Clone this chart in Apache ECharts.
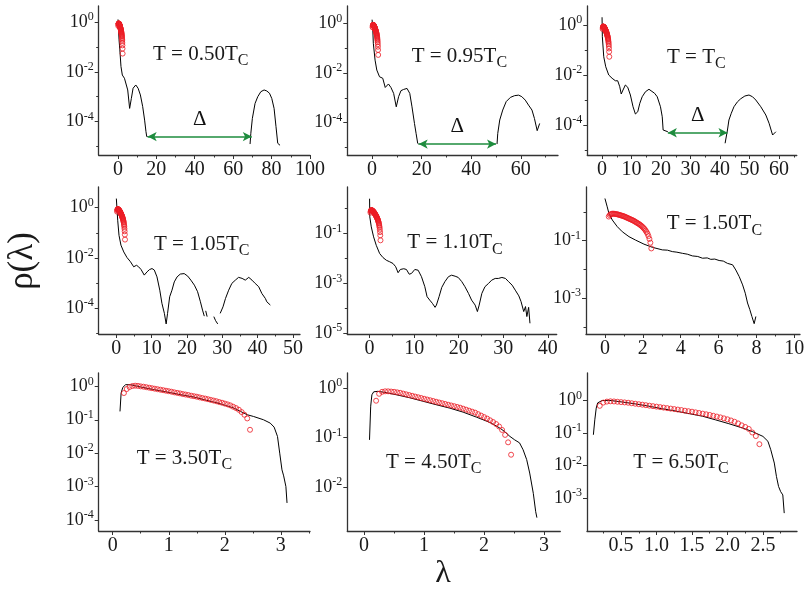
<!DOCTYPE html>
<html>
<head>
<meta charset="utf-8">
<script src="https://cdn.jsdelivr.net/npm/echarts@6/dist/echarts.min.js"></script>
<style>
html, body { margin: 0; padding: 0; background: #fff; }
#chart { width: 809px; height: 589px; }
</style>
</head>
<body>
<div id="chart"></div>
<script>
// black curves: lambda and log10(rho), null = break in the curve
const line1X = [0.05, 0.6, 1.0, 1.6, 2.3, 3.4, 4.2, 5.1, 6.1, 7.0, 7.9, 9.3, 10.5, 11.7, 12.9, 13.9, 14.6, 15.0, 15.5, 40, 68.8, 69.2, 70.0, 71.4, 72.8, 74.4, 76.1, 77.5, 78.9, 80.1, 81.3, 82.3, 83.2, 84.4];
const line1Y = [0.1, -0.72, -1.12, -1.79, -2.13, -2.26, -2.33, -2.73, -3.47, -3.07, -2.66, -2.53, -2.66, -2.93, -3.4, -3.94, -4.4, -4.6, -4.6, null, -4.9, -4.47, -3.87, -3.27, -3.0, -2.8, -2.73, -2.77, -2.86, -3.07, -3.47, -4.2, -4.87, -4.95];

const line2X = [0.0, 0.3, 0.5, 1.2, 1.9, 3.0, 4.3, 5.3, 5.96, 6.6, 7.6, 8.7, 9.75, 10.7, 11.65, 12.7, 14.1, 15.2, 16.1, 17.1, 17.75, 18.4, 18.8, 35, 50.4, 50.7, 51.5, 52.7, 54.1, 55.8, 57.5, 59.1, 60.4, 61.8, 63.1, 64.5, 65.5, 66.6, 67.6];
const line2Y = [0.15, -0.3, -0.8, -1.48, -1.88, -2.15, -2.21, -2.58, -2.62, -2.44, -2.58, -2.82, -3.36, -2.95, -2.71, -2.66, -2.62, -2.82, -3.36, -4.03, -4.43, -4.83, -4.86, null, -4.86, -4.43, -3.89, -3.49, -3.15, -2.98, -2.91, -2.89, -2.95, -3.09, -3.29, -3.49, -3.83, -4.32, -4.03];

const line3X = [0.0, 0.1, 0.57, 1.25, 2.26, 3.4, 4.5, 5.3, 6.0, 6.5, 7.1, 7.9, 8.7, 9.6, 10.5, 11.3, 12.1, 12.8, 13.6, 14.7, 15.9, 16.6, 17.8, 18.7, 19.8, 20.4, 20.7, 20.95, 22.3, 32, 41.7, 42.5, 43.0, 43.8, 44.7, 45.9, 47.0, 48.4, 49.8, 51.0, 52.1, 53.8, 55.5, 56.6, 57.8, 58.9];
const line3Y = [0.31, -0.47, -1.27, -1.67, -2.0, -2.13, -2.23, -2.23, -2.47, -2.76, -2.6, -2.4, -2.49, -2.8, -3.27, -3.56, -3.47, -3.13, -2.87, -2.67, -2.57, -2.63, -2.73, -2.87, -3.27, -3.67, -4.2, -4.27, -4.27, null, -4.73, -4.2, -3.8, -3.53, -3.27, -3.07, -2.95, -2.84, -2.8, -2.87, -3.0, -3.27, -3.6, -3.93, -4.4, -4.27];

const line4X = [0.0, 0.38, 0.75, 1.3, 2.1, 3.0, 4.0, 4.9, 5.7, 6.3, 7.0, 7.9, 8.7, 9.4, 10.1, 10.75, 11.5, 12.3, 12.9, 13.6, 14.1, 14.5, 15.1, 15.75, 16.4, 17.2, 18.1, 19.2, 20.2, 21.1, 22.1, 23.0, 23.8, 24.4, 24.9, 25.1, 25.3, 25.7, 26.6, 27.6, 28.1, 28.7, 29.0, 29.4, 30.2, 30.9, 31.8, 32.7, 33.7, 34.6, 35.6, 36.5, 37.5, 38.4, 39.3, 40.3, 41.2, 42.2, 42.6, 43.6];
const line4Y = [0.36, -0.5, -1.1, -1.49, -1.76, -1.98, -2.15, -2.35, -2.29, -2.35, -2.46, -2.68, -2.55, -2.46, -2.42, -2.48, -2.75, -3.28, -3.8, -4.2, -4.62, -4.2, -3.54, -3.28, -2.95, -2.75, -2.64, -2.62, -2.72, -2.88, -3.08, -3.34, -3.74, -4.07, -4.31, null, -4.1, -4.33, null, -4.33, -4.49, -4.62, null, -4.2, -3.94, -3.61, -3.28, -3.01, -2.88, -2.77, -2.81, -2.88, -2.77, -2.88, -3.01, -3.14, -3.41, -3.61, -3.74, -3.87];

const line5X = [0.0, 0.05, 0.38, 0.9, 1.5, 2.26, 3.0, 3.76, 4.5, 5.26, 5.86, 6.4, 6.9, 7.67, 8.27, 8.9, 9.4, 10.15, 10.9, 11.65, 12.4, 12.9, 13.5, 14.1, 14.7, 15.0, 15.6, 16.2, 16.9, 17.7, 18.4, 19.2, 19.9, 20.7, 21.4, 22.2, 22.9, 23.7, 24.2, 24.6, 25.2, 25.9, 26.7, 27.4, 28.2, 28.9, 29.7, 30.5, 31.2, 32.0, 32.7, 33.5, 34.0, 34.6, 35.0, 35.3, 35.7, 36.0];
const line5Y = [0.4, -0.33, -0.73, -1.13, -1.47, -1.8, -1.96, -2.07, -2.13, -2.2, -2.33, -2.57, -2.44, -2.41, -2.44, -2.63, -2.6, -2.44, -2.47, -2.73, -3.13, -3.53, -3.67, -3.8, -3.96, -3.87, -3.53, -3.16, -2.93, -2.73, -2.67, -2.71, -2.76, -2.93, -3.13, -3.4, -3.67, -3.87, -4.13, -3.87, -3.4, -3.13, -3.0, -2.87, -2.8, -2.8, -2.76, -2.8, -2.93, -3.07, -3.27, -3.5, -3.73, -4.13, -3.93, -4.33, -3.96, -4.6];

const line6X = [0.0, 0.12, 0.21, 0.39, 0.65, 0.92, 1.27, 1.62, 2.06, 2.5, 3.03, 3.3, 3.56, 3.8, 4.09, 4.35, 4.62, 4.9, 5.15, 5.4, 5.59, 5.8, 6.03, 6.25, 6.47, 6.74, 6.91, 7.09, 7.27, 7.41, 7.53, 7.65, 7.76, 7.88, 7.97];
const line6Y = [0.47, 0.18, -0.05, -0.28, -0.51, -0.69, -0.86, -0.98, -1.12, -1.23, -1.32, -1.33, -1.38, -1.4, -1.44, -1.47, -1.53, -1.55, -1.61, -1.6, -1.65, -1.64, -1.69, -1.71, -1.79, -1.84, -2.02, -2.25, -2.54, -2.83, -3.17, -3.4, -3.64, -3.89, -3.64];

const line7X = [0.13, 0.15, 0.18, 0.23, 0.32, 0.5, 0.74, 0.97, 1.21, 1.45, 1.68, 1.92, 2.16, 2.28, 2.4, 2.51, 2.69, 2.81, 2.88, 2.94, 2.98, 3.02, 3.05, 3.08, 3.09, 3.11];
const line7Y = [-0.75, -0.2, -0.03, 0.05, 0.05, -0.02, -0.1, -0.17, -0.25, -0.32, -0.42, -0.52, -0.65, -0.75, -0.85, -0.9, -1.0, -1.1, -1.22, -1.5, -2.0, -2.5, -2.68, -2.72, -3.0, -3.49];

const line8X = [0.09, 0.11, 0.13, 0.16, 0.23, 0.34, 0.54, 0.76, 0.98, 1.2, 1.43, 1.65, 1.87, 2.1, 2.26, 2.34, 2.43, 2.51, 2.59, 2.65, 2.71, 2.76, 2.82, 2.86, 2.88];
const line8Y = [-1.05, -0.37, -0.14, -0.08, -0.07, -0.09, -0.14, -0.2, -0.27, -0.34, -0.41, -0.49, -0.59, -0.7, -0.81, -0.88, -0.98, -1.05, -1.11, -1.25, -1.45, -1.72, -2.13, -2.5, -2.62];

const line9X = [0.11, 0.13, 0.15, 0.17, 0.23, 0.33, 0.51, 0.7, 0.89, 1.08, 1.27, 1.46, 1.65, 1.83, 2.02, 2.21, 2.35, 2.5, 2.57, 2.61, 2.66, 2.69, 2.72, 2.75, 2.78, 2.8];
const line9Y = [-1.05, -0.59, -0.23, -0.07, 0.0, 0.01, -0.04, -0.1, -0.17, -0.25, -0.32, -0.4, -0.48, -0.59, -0.71, -0.84, -0.95, -1.1, -1.25, -1.51, -1.92, -2.33, -2.64, -2.8, -2.9, -3.46];

// red circles: lambda grid and log10(rho)
const redX = [0.20, 0.25, 0.30, 0.35, 0.40, 0.45, 0.50, 0.55, 0.60, 0.65, 0.70, 0.75, 0.80, 0.85, 0.90, 0.95, 1.00, 1.05, 1.10, 1.15, 1.20, 1.25, 1.30, 1.35, 1.40, 1.45, 1.50, 1.55, 1.60, 1.65, 1.70, 1.75, 1.80, 1.85, 1.90, 1.95, 2.00, 2.05, 2.10, 2.15, 2.20, 2.25, 2.30, 2.35, 2.40, 2.45];
const redLowY = [-0.16, -0.11, -0.08, -0.065, -0.06, -0.06, -0.065, -0.07, -0.075, -0.08, -0.09, -0.10, -0.11, -0.12, -0.13, -0.14, -0.15, -0.165, -0.18, -0.195, -0.21, -0.225, -0.24, -0.255, -0.27, -0.285, -0.30, -0.32, -0.34, -0.36, -0.38, -0.40, -0.42, -0.445, -0.47, -0.50, -0.53, -0.565, -0.60, -0.65, -0.70, -0.76, -0.84, -0.94, -1.07, -1.27];
const red7Y = [-0.20, -0.08, -0.02, 0.01, 0.02, 0.015, 0.0, -0.01, -0.025, -0.04, -0.055, -0.07, -0.085, -0.10, -0.115, -0.13, -0.145, -0.16, -0.18, -0.195, -0.21, -0.23, -0.245, -0.26, -0.28, -0.295, -0.31, -0.33, -0.35, -0.365, -0.385, -0.405, -0.425, -0.445, -0.47, -0.49, -0.515, -0.54, -0.57, -0.61, -0.65, -0.70, -0.77, -0.85, -0.96, -1.30];
const red8Y = [-0.26, -0.12, -0.08, -0.07, -0.07, -0.075, -0.08, -0.09, -0.10, -0.115, -0.13, -0.145, -0.16, -0.175, -0.19, -0.205, -0.22, -0.235, -0.25, -0.265, -0.28, -0.295, -0.31, -0.325, -0.34, -0.355, -0.37, -0.385, -0.40, -0.42, -0.44, -0.46, -0.48, -0.50, -0.53, -0.56, -0.59, -0.62, -0.655, -0.69, -0.73, -0.78, -0.85, -0.95, -1.10, -1.35];
const red9Y = [-0.16, -0.06, -0.03, -0.02, -0.025, -0.035, -0.045, -0.055, -0.065, -0.08, -0.095, -0.11, -0.125, -0.14, -0.155, -0.17, -0.185, -0.20, -0.215, -0.23, -0.245, -0.26, -0.275, -0.29, -0.31, -0.325, -0.34, -0.36, -0.38, -0.40, -0.42, -0.44, -0.465, -0.49, -0.515, -0.545, -0.575, -0.61, -0.65, -0.70, -0.76, -0.81, -0.87, -0.98, -1.09, -1.34];

// gap arrows (first row)
const gapFrom = [15.5, 18.8, 22.3];
const gapTo = [69.7, 50.0, 42.5];
const gapLevel = [-4.6, -4.86, -4.31];

const temps = ['0.50', '0.95', '', '1.05', '1.10', '1.50', '3.50', '4.50', '6.50'];

// axes
const xRange = [[-10, 100], [-10, 75], [-5, 66], [-5, 52], [-5, 42], [-1, 10.3], [-0.25, 3.52], [-0.28, 3.27], [0.02, 2.98]];
const yRange = [[-5.34, 0.64], [-5.3, 0.7], [-5.2, 0.76], [-5.02, 0.82], [-5.03, 0.87], [-4.25, 0.87], [-4.33, 0.4], [-2.89, 0.3], [-4.01, 0.85]];
const xMajor = [[0, 20, 40, 60, 80, 100], [0, 20, 40, 60], [0, 10, 20, 30, 40, 50, 60], [0, 10, 20, 30, 40, 50], [0, 10, 20, 30, 40], [0, 2, 4, 6, 8, 10], [0, 1, 2, 3], [0, 1, 2, 3], [0.5, 1, 1.5, 2, 2.5]];
const xMinor = [[10, 30, 50, 70, 90], [10, 30, 50, 70], [5, 15, 25, 35, 45, 55, 65], [5, 15, 25, 35, 45], [5, 15, 25, 35], [1, 3, 5, 7, 9], [0.5, 1.5, 2.5, 3.5], [0.5, 1.5, 2.5], [0.25, 0.75, 1.25, 1.75, 2.25, 2.75]];
const yMajor = [[-4, -2, 0], [-4, -2, 0], [-4, -2, 0], [-4, -2, 0], [-5, -3, -1], [-3, -1], [-4, -3, -2, -1, 0], [-2, -1, 0], [-3, -2, -1, 0]];
const yMinor = [[-5, -3, -1], [-5, -3, -1], [-5, -3, -1], [-5, -3, -1], [-4, -2, 0], [-4, -2, 0], [], [], []];

const lines = [[line1X, line1Y], [line2X, line2Y], [line3X, line3Y], [line4X, line4Y], [line5X, line5Y], [line6X, line6Y], [line7X, line7Y], [line8X, line8Y], [line9X, line9Y]];
const reds = [redLowY, redLowY, redLowY, redLowY, redLowY, redLowY, red7Y, red8Y, red9Y];

// layout (px): left, top, width, height of each plot frame
const boxes = [[98.7, 6, 211.3, 149], [347.3, 6, 210.7, 149], [587.3, 6, 209.5, 149],
               [98.7, 187, 201.3, 147], [347.3, 187, 209.4, 147], [586, 187, 214, 147],
               [98.7, 373, 211.3, 158], [347.3, 373, 213, 158], [587, 373, 210, 158]];
const tempPos = [[153, 54.7], [411.7, 56.7], [667, 57], [154, 244.7], [407.3, 242.8], [666.7, 223.8], [136.7, 458.3], [386, 462], [633.3, 462]];

const serif = "Liberation Serif";
const ink = '#1a1a1a';
const red = '#ec1c24';
const green = '#1e8c3e';

const grids = [], xAxes = [], yAxes = [], series = [], titles = [];

boxes.forEach((b, i) => {
  grids.push({ left: b[0], top: b[1], width: b[2], height: b[3], outerBoundsMode: 'none' });

  xAxes.push({
    type: 'value', gridIndex: i, position: 'bottom', min: xRange[i][0], max: xRange[i][1],
    axisLine: { onZero: false, lineStyle: { color: '#333', width: 1.3 } },
    axisTick: { customValues: xMajor[i], length: 4, lineStyle: { color: '#333' } },
    axisLabel: {
      customValues: xMajor[i], margin: 5, color: ink, fontFamily: serif, fontSize: 20,
      formatter: v => (i === 8 ? v.toFixed(1) : String(v))
    },
    splitLine: { show: false }
  });
  xAxes.push({
    type: 'value', gridIndex: i, position: 'bottom', min: xRange[i][0], max: xRange[i][1],
    axisLine: { show: false, onZero: false },
    axisTick: { customValues: xMinor[i], length: 2.5, lineStyle: { color: '#333' } },
    axisLabel: { show: false },
    splitLine: { show: false }
  });

  yAxes.push({
    type: 'value', gridIndex: i, position: 'left', min: yRange[i][0], max: yRange[i][1],
    axisLine: { onZero: false, lineStyle: { color: '#333', width: 1.3 } },
    axisTick: { customValues: yMajor[i], length: 4, lineStyle: { color: '#333' } },
    axisLabel: {
      customValues: yMajor[i], margin: 5, color: ink, fontFamily: serif,
      formatter: v => '{b|10}{s|' + Math.round(v) + '}',
      rich: {
        b: { fontSize: 18, fontFamily: serif, color: ink },
        s: { fontSize: 12, fontFamily: serif, color: ink, padding: [0, 0, 10, 0] }
      }
    },
    splitLine: { show: false }
  });
  yAxes.push({
    type: 'value', gridIndex: i, position: 'left', min: yRange[i][0], max: yRange[i][1],
    axisLine: { show: false, onZero: false },
    axisTick: { show: yMinor[i].length > 0, customValues: yMinor[i], length: 2.5, lineStyle: { color: '#333' } },
    axisLabel: { show: false },
    splitLine: { show: false }
  });

  const lx = lines[i][0], ly = lines[i][1];
  const lineSeries = {
    type: 'line', xAxisIndex: 2 * i, yAxisIndex: 2 * i,
    data: lx.map((x, k) => [x, ly[k] == null ? '-' : ly[k]]),
    showSymbol: false, symbol: 'none', connectNulls: false,
    lineStyle: { color: '#000', width: 1 }, z: 2, silent: true
  };
  if (i < 3) {
    lineSeries.markLine = {
      silent: true, symbol: ['arrow', 'arrow'], symbolSize: [7, 9],
      lineStyle: { color: green, width: 1.6, type: 'solid' },
      label: { show: true, position: 'middle', formatter: '\u0394', color: '#111', fontFamily: serif, fontSize: 21, fontWeight: 'normal', distance: 7 },
      data: [[{ coord: [gapFrom[i], gapLevel[i]] }, { coord: [gapTo[i], gapLevel[i]] }]]
    };
  }
  series.push(lineSeries);

  series.push({
    type: 'scatter', xAxisIndex: 2 * i, yAxisIndex: 2 * i,
    data: redX.map((x, k) => [x, reds[i][k]]),
    symbol: 'circle', symbolSize: 5,
    itemStyle: { color: 'rgba(0,0,0,0)', borderColor: red, borderWidth: 1 },
    z: 3, silent: true
  });

  titles.push({
    text: '{a|T = ' + temps[i] + 'T}{c|C}',
    left: tempPos[i][0], top: tempPos[i][1] - 14.5, padding: 0,
    textStyle: {
      fontWeight: 'normal', fontFamily: serif,
      rich: {
        a: { fontSize: 21, fontFamily: serif, fontWeight: 'normal', color: ink },
        c: { fontSize: 16, fontFamily: serif, fontWeight: 'normal', color: ink, padding: [13, 0, 0, 0] }
      }
    }
  });
});

const chart = echarts.init(document.getElementById('chart'));
chart.setOption({
  animation: false,
  backgroundColor: '#fff',
  title: titles,
  grid: grids,
  xAxis: xAxes,
  yAxis: yAxes,
  series: series,
  graphic: [
    {
      type: 'text', x: 23, y: 261, rotation: Math.PI / 2,
      style: { text: '\u03c1(\u03bb)', fontSize: 35, fontFamily: serif, font: '35px "Liberation Serif"', fill: ink, align: 'center', verticalAlign: 'middle', textAlign: 'center', textVerticalAlign: 'middle' }
    },
    {
      type: 'text', x: 443, y: 574,
      style: { text: '\u03bb', fontSize: 32, fontFamily: serif, font: '32px "Liberation Serif"', fill: ink, align: 'center', verticalAlign: 'middle', textAlign: 'center', textVerticalAlign: 'middle' }
    }
  ]
});
</script>
</body>
</html>
